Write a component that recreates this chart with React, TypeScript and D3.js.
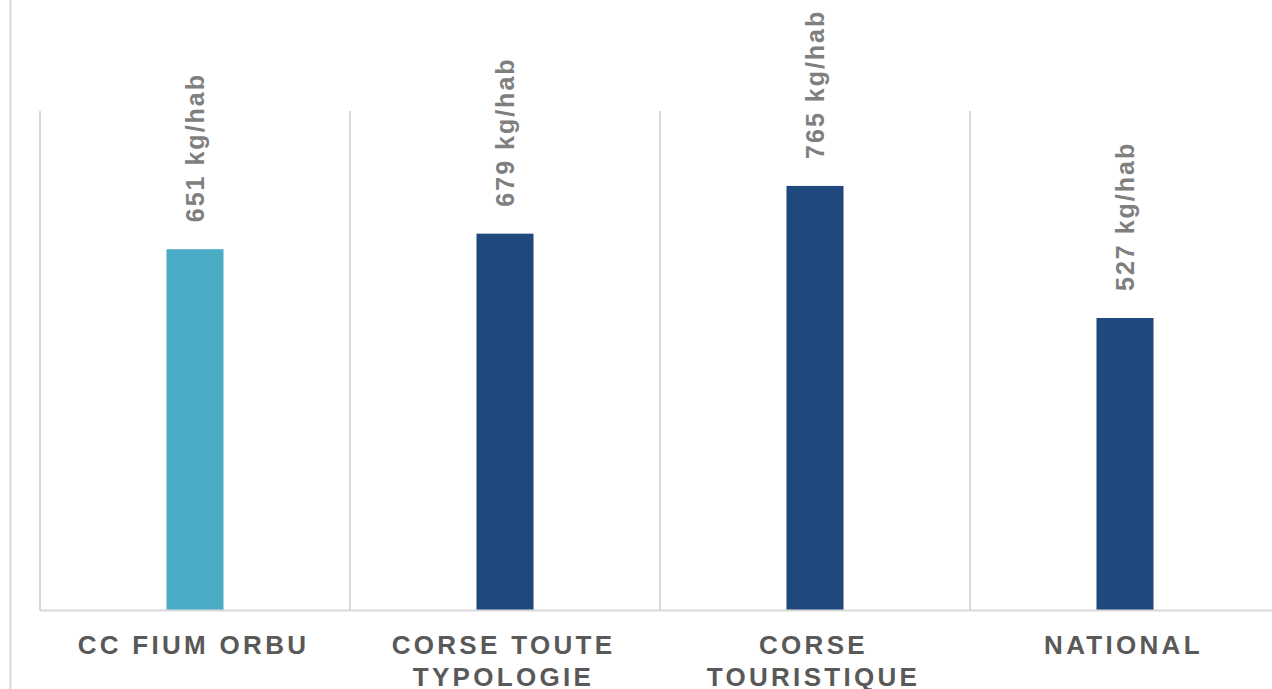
import React from "react";
import * as d3 from "d3";

const categories: string[] = ["CC FIUM ORBU", "CORSE TOUTE TYPOLOGIE", "CORSE TOURISTIQUE", "NATIONAL"];
const categoryLines: string[][] = [["CC FIUM ORBU"], ["CORSE TOUTE", "TYPOLOGIE"], ["CORSE", "TOURISTIQUE"], ["NATIONAL"]];
const values: number[] = [651, 679, 765, 527];
const valueUnit = "kg/hab";
const barColors: string[] = ["#4BACC6", "#1F497D", "#1F497D", "#1F497D"];

const W = 1272;
const H = 689;

export default function App() {
  const left = 40;
  const right = 1280;
  const top = 111;
  const bottom = 610.5;

  const x = d3.scaleBand<string>().domain(categories).range([left, right]).paddingInner(0).paddingOuter(0);
  const y = d3.scaleLinear().domain([0, 900]).range([bottom, top]);
  const barW = x.bandwidth() * 0.184;

  const font = "'Liberation Sans', Arial, sans-serif";
  const labelSize = 25;
  const catSize = 26;

  const gridXs = categories.map((c) => x(c) as number).concat([right]);

  return (
    <svg width={W} height={H} style={{ position: "fixed", left: 0, top: 0, background: "#fff" }}>
      <rect x={0} y={0} width={W} height={H} fill="#fff" />
      <line x1={10.5} x2={10.5} y1={0} y2={H} stroke="#d9d9d9" strokeWidth={2} />
      {gridXs.map((gx, i) => (
        <line key={"g" + i} x1={gx} x2={gx} y1={top} y2={bottom} stroke="#d9d9d9" strokeWidth={2} />
      ))}
      {categories.map((c, i) => {
        const cx = (x(c) as number) + x.bandwidth() / 2;
        return (
          <rect key={"b" + i} x={cx - barW / 2} y={y(values[i])} width={barW} height={bottom - y(values[i])} fill={barColors[i]} />
        );
      })}
      <line x1={left} x2={W} y1={bottom} y2={bottom} stroke="#d9d9d9" strokeWidth={2} />
      {categories.map((c, i) => {
        const cx = (x(c) as number) + x.bandwidth() / 2;
        const ty = y(values[i]) - 27;
        const tx = cx + labelSize * 0.36;
        return (
          <text
            key={"l" + i}
            transform={`translate(${tx},${ty}) rotate(-90)`}
            fontFamily={font}
            fontWeight="bold"
            fontSize={labelSize}
            fill="#7f7f7f"
            letterSpacing={2}
          >
            {`${values[i]} ${valueUnit}`}
          </text>
        );
      })}
      {categories.map((c, i) => {
        const cx = (x(c) as number) + x.bandwidth() / 2;
        return (
          <text key={"c" + i} fontFamily={font} fontWeight="bold" fontSize={catSize} fill="#595959" letterSpacing={3.3} textAnchor="middle">
            {categoryLines[i].map((ln, j) => (
              <tspan key={j} x={cx - 1.5} y={654 + j * 32}>
                {ln}
              </tspan>
            ))}
          </text>
        );
      })}
    </svg>
  );
}
